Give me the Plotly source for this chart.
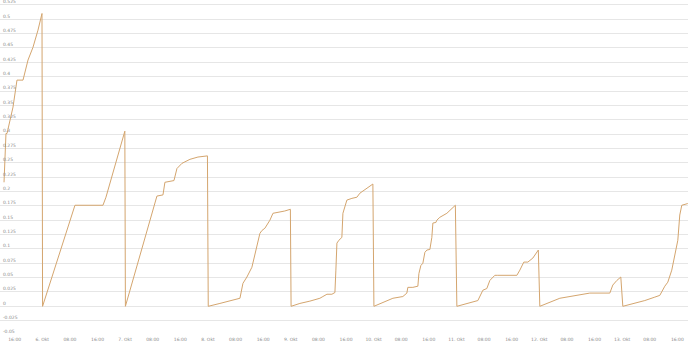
import plotly.graph_objects as go

# Daily cumulative series (resets at midnight)
times = [
    "2023-10-05 12:55", "2023-10-05 13:12", "2023-10-05 13:29", "2023-10-05 13:47", "2023-10-05 14:39",
    "2023-10-05 15:31", "2023-10-05 16:40", "2023-10-05 18:25", "2023-10-05 19:52", "2023-10-05 21:18",
    "2023-10-05 22:45", "2023-10-05 23:55",
    "2023-10-06 00:05", "2023-10-06 09:28", "2023-10-06 17:35", "2023-10-06 18:27", "2023-10-06 23:55",
    "2023-10-07 00:05", "2023-10-07 09:13", "2023-10-07 10:58", "2023-10-07 11:32", "2023-10-07 14:09",
    "2023-10-07 15:01", "2023-10-07 16:28", "2023-10-07 18:47", "2023-10-07 21:06", "2023-10-07 23:51",
    "2023-10-08 00:05", "2023-10-08 03:28", "2023-10-08 06:22", "2023-10-08 09:16", "2023-10-08 10:08",
    "2023-10-08 11:17", "2023-10-08 12:44", "2023-10-08 13:37", "2023-10-08 14:11", "2023-10-08 15:03",
    "2023-10-08 15:38", "2023-10-08 16:30", "2023-10-08 17:57", "2023-10-08 18:50", "2023-10-08 22:15",
    "2023-10-08 23:53",
    "2023-10-09 00:05", "2023-10-09 02:38", "2023-10-09 05:32", "2023-10-09 08:26", "2023-10-09 09:18",
    "2023-10-09 10:28", "2023-10-09 11:55", "2023-10-09 12:47", "2023-10-09 13:04", "2023-10-09 13:22",
    "2023-10-09 13:56", "2023-10-09 14:48", "2023-10-09 15:06", "2023-10-09 16:15", "2023-10-09 17:42",
    "2023-10-09 19:09", "2023-10-09 20:01", "2023-10-09 22:03", "2023-10-09 23:47",
    "2023-10-10 00:05", "2023-10-10 02:41", "2023-10-10 05:35", "2023-10-10 08:28", "2023-10-10 09:38",
    "2023-10-10 09:55", "2023-10-10 11:22", "2023-10-10 12:49", "2023-10-10 13:07", "2023-10-10 13:41",
    "2023-10-10 14:16", "2023-10-10 14:51", "2023-10-10 15:26", "2023-10-10 16:18", "2023-10-10 16:52",
    "2023-10-10 17:10", "2023-10-10 18:02", "2023-10-10 18:19", "2023-10-10 19:11", "2023-10-10 21:13",
    "2023-10-10 23:41",
    "2023-10-11 00:07", "2023-10-11 06:12", "2023-10-11 07:39", "2023-10-11 08:48", "2023-10-11 09:40",
    "2023-10-11 11:07", "2023-10-11 11:59", "2023-10-11 17:30", "2023-10-11 18:22", "2023-10-11 19:31",
    "2023-10-11 20:41", "2023-10-11 22:08", "2023-10-11 23:43",
    "2023-10-12 00:09", "2023-10-12 05:57", "2023-10-12 08:51", "2023-10-12 11:44", "2023-10-12 14:38",
    "2023-10-12 20:26", "2023-10-12 21:18", "2023-10-12 22:28", "2023-10-12 23:37",
    "2023-10-13 00:12", "2023-10-13 06:34", "2023-10-13 09:28", "2023-10-13 10:55", "2023-10-13 12:22",
    "2023-10-13 13:14", "2023-10-13 14:23", "2023-10-13 15:16", "2023-10-13 16:08", "2023-10-13 16:42",
    "2023-10-13 17:17", "2023-10-13 19:01",
]
values = [
    0.216, 0.249, 0.301, 0.301, 0.324,
    0.347, 0.394, 0.394, 0.429, 0.451,
    0.481, 0.510,
    0.0, 0.176, 0.176, 0.190, 0.305,
    0.0, 0.192, 0.194, 0.216, 0.219,
    0.240, 0.249, 0.256, 0.260, 0.262,
    0.0, 0.005, 0.009, 0.014, 0.040,
    0.051, 0.068, 0.089, 0.103, 0.127,
    0.132, 0.136, 0.150, 0.162, 0.166,
    0.169,
    0.0, 0.005, 0.009, 0.014, 0.017,
    0.021, 0.021, 0.024, 0.063, 0.110,
    0.115, 0.120, 0.162, 0.185, 0.188,
    0.190, 0.197, 0.206, 0.213,
    0.0, 0.007, 0.014, 0.017, 0.023,
    0.033, 0.033, 0.035, 0.057, 0.071,
    0.075, 0.094, 0.098, 0.099, 0.120,
    0.145, 0.146, 0.150, 0.155, 0.162,
    0.176,
    0.0, 0.010, 0.028, 0.031, 0.045,
    0.054, 0.054, 0.054, 0.063, 0.077,
    0.077, 0.084, 0.098,
    0.0, 0.014, 0.017, 0.021, 0.023,
    0.023, 0.037, 0.045, 0.051,
    0.0, 0.010, 0.016, 0.019, 0.035,
    0.042, 0.063, 0.089, 0.115, 0.159,
    0.176, 0.179,
]

y_tickvals = [-0.05, -0.025, 0, 0.025, 0.05, 0.075, 0.1, 0.125, 0.15, 0.175, 0.2, 0.225,
              0.25, 0.275, 0.3, 0.325, 0.35, 0.375, 0.4, 0.425, 0.45, 0.475, 0.5, 0.525]
y_ticktext = ["-0.05", "-0.025", "0", "0.025", "0.05", "0.075", "0.1", "0.125", "0.15", "0.175",
              "0.2", "0.225", "0.25", "0.275", "0.3", "0.325", "0.35", "0.375", "0.4", "0.425",
              "0.45", "0.475", "0.5", "0.525"]

x_tickvals = [
    "2023-10-05 16:00",
    "2023-10-06 00:00", "2023-10-06 08:00", "2023-10-06 16:00",
    "2023-10-07 00:00", "2023-10-07 08:00", "2023-10-07 16:00",
    "2023-10-08 00:00", "2023-10-08 08:00", "2023-10-08 16:00",
    "2023-10-09 00:00", "2023-10-09 08:00", "2023-10-09 16:00",
    "2023-10-10 00:00", "2023-10-10 08:00", "2023-10-10 16:00",
    "2023-10-11 00:00", "2023-10-11 08:00", "2023-10-11 16:00",
    "2023-10-12 00:00", "2023-10-12 08:00", "2023-10-12 16:00",
    "2023-10-13 00:00", "2023-10-13 08:00", "2023-10-13 16:00",
]
x_ticktext = [
    "16:00",
    "6. Okt", "08:00", "16:00",
    "7. Okt", "08:00", "16:00",
    "8. Okt", "08:00", "16:00",
    "9. Okt", "08:00", "16:00",
    "10. Okt", "08:00", "16:00",
    "11. Okt", "08:00", "16:00",
    "12. Okt", "08:00", "16:00",
    "13. Okt", "08:00", "16:00",
]

fig = go.Figure()
fig.add_trace(go.Scatter(
    x=times, y=values, mode="lines",
    line=dict(color="#d4a56e", width=1),
    showlegend=False, hoverinfo="x+y",
))

tick_font = dict(family="DejaVu Sans", size=4.5, color="#8a8a8a")

fig.update_layout(
    width=690, height=342,
    margin=dict(l=0, r=2, t=1, b=7),
    paper_bgcolor="white", plot_bgcolor="white",
    xaxis=dict(
        type="date",
        range=["2023-10-05 11:45", "2023-10-13 19:05"],
        tickvals=x_tickvals, ticktext=x_ticktext,
        showgrid=False, zeroline=False, showline=False,
        ticks="", tickfont=tick_font, ticklabelstandoff=0,
        ticklabeloverflow="allow",
    ),
    yaxis=dict(
        range=[-0.05, 0.5318],
        tickvals=y_tickvals, ticktext=y_ticktext,
        showgrid=True, gridcolor="#e6e6e6", gridwidth=1,
        zeroline=False, showline=False, ticks="",
        ticklabelposition="inside top", tickfont=tick_font,
        ticklabelstandoff=0, ticklabeloverflow="allow",
    ),
)

fig.write_html("out.html")
